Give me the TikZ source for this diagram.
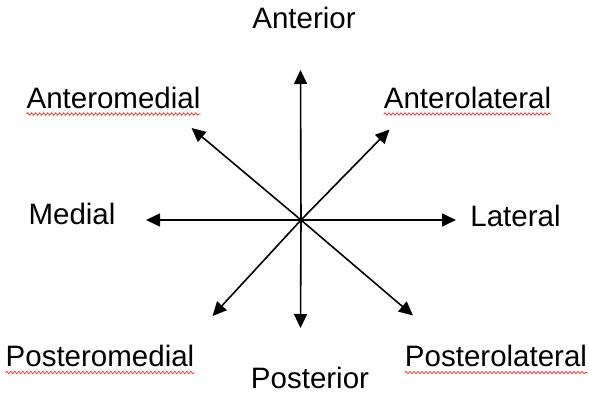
\documentclass[tikz,border=0pt]{standalone}
\usepackage{fontspec}
\setmainfont{Liberation Sans}
\usetikzlibrary{arrows.meta,decorations.pathmorphing}
\begin{document}
\begin{tikzpicture}[x=1pt,y=-1pt,
  lbl/.style={anchor=base,inner sep=0pt,font=\fontsize{29.5}{31}\selectfont},
  arr/.style={line width=1.6pt,-{Triangle[length=14pt,width=13pt]}},
  wavy/.style={draw=red!85!white,line width=0.7pt,decorate,decoration={snake,amplitude=1.2pt,segment length=4pt}}]
\useasboundingbox (0,0) rectangle (589,394);
\coordinate (c) at (301,220);
\coordinate (tN) at (300.5,70);
\coordinate (tS) at (300.5,328);
\coordinate (tW) at (146,220);
\coordinate (tE) at (456,220);
\coordinate (tNW) at (191.5,128);
\coordinate (tNE) at (389.5,129.5);
\coordinate (tSW) at (212.5,316);
\coordinate (tSE) at (413,315.5);
\foreach \t in {tN,tS,tW,tE,tNW,tNE,tSW,tSE} \draw[arr] (c) -- (\t);
\node[lbl] (ant) at (304,28.5) {Anterior};
\node[lbl] (post) at (310,388) {Posterior};
\node[lbl] (med) at (72,224) {Medial};
\node[lbl] (lat) at (515.5,226) {Lateral};
\node[lbl] (am) at (113.5,108) {Anteromedial};
\node[lbl] (al) at (467.5,108) {Anterolateral};
\node[lbl] (pm) at (100,366.5) {Posteromedial};
\node[lbl] (pl) at (496,366.5) {Posterolateral};
\foreach \n in {am,al,pm,pl}
  \draw[wavy] ([yshift=-6pt]\n.base west) -- ([yshift=-6pt]\n.base east);
\end{tikzpicture}
\end{document}
